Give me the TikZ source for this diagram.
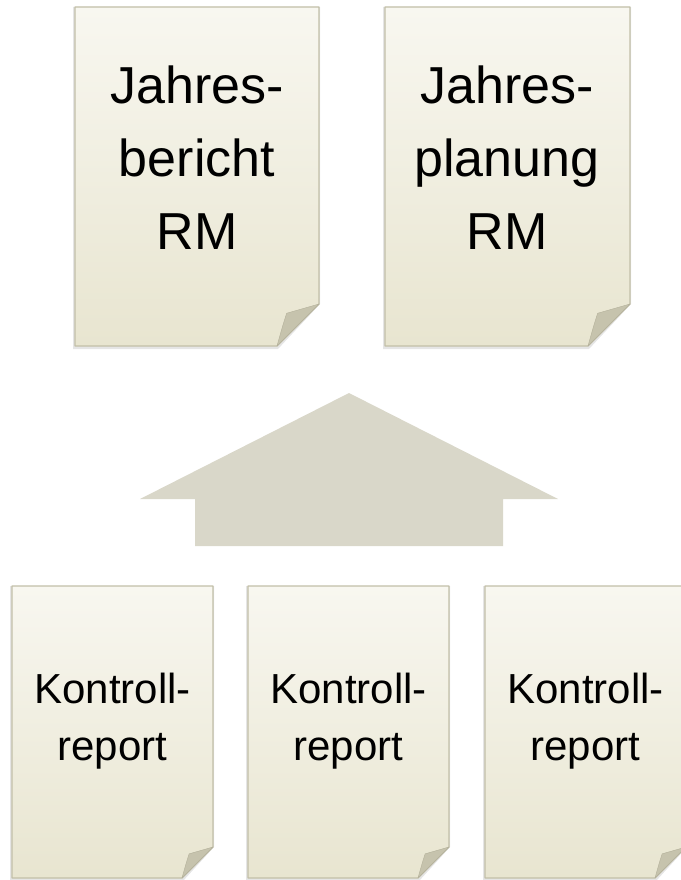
\documentclass[tikz,border=0pt]{standalone}
\usepackage{fontspec}
\setmainfont{Liberation Sans}
\usetikzlibrary{backgrounds,calc}
\definecolor{pagetop}{HTML}{F8F7F0}
\definecolor{pagebot}{HTML}{E8E5D0}
\definecolor{pageedge}{HTML}{C2BFA8}
\definecolor{foldgray}{HTML}{C6C3AD}
\definecolor{foldedge}{HTML}{B3B09A}
\definecolor{arrowgray}{HTML}{D9D7C9}
\tikzset{
  pagefill/.style={top color=pagetop,bottom color=pagebot,
                   draw=pageedge,line width=1.2pt,line join=round},
  pageshadow/.style={fill=black,opacity=0.10},
  pagefold/.style={fill=foldgray,draw=foldedge,line width=0.4pt,line join=round},
  bigtext/.style={align=center,inner sep=0pt,
                  font=\fontsize{52}{73}\selectfont},
  smalltext/.style={align=center,inner sep=0pt,
                    font=\fontsize{42}{57}\selectfont},
  blockarrow/.style={fill=arrowgray}
}

\begin{document}
\begin{tikzpicture}[x=1pt,y=-1pt]
  \useasboundingbox (0,0) rectangle (680,880);

  % paper sheets: left/top/right/bottom/fold
  \foreach \xa/\ya/\xb/\yb/\f in {75/7/319/346/42, 385/7/630/346/42,
                                  12/586/213/878/31, 248/586/449/878/31,
                                  485/586/686/878/31}{
    \fill[pageshadow] (\xa-2,\ya) -- (\xb+1,\ya) -- (\xb+1,\yb-\f) --
      (\xb-\f+1,\yb+3) -- (\xa-2,\yb+3) -- cycle;
    \path[pagefill] (\xa,\ya) -- (\xb,\ya) -- (\xb,\yb-\f) --
      (\xb-\f,\yb) -- (\xa,\yb) -- cycle;
    \path[pagefold] (\xb,\yb-\f) -- (\xb-0.77*\f,\yb-0.78*\f)
      .. controls (\xb-0.86*\f,\yb-0.5*\f) .. (\xb-\f,\yb) -- cycle;
  }

  \node[bigtext] (bericht) at (197,158) {Jahres-\\bericht\\RM};
  \node[bigtext] (planung) at (507,158) {Jahres-\\planung\\RM};

  \fill[blockarrow] (349,393) -- (558,499) -- (503,499) -- (503,546) --
    (195,546) -- (195,499) -- (140,499) -- cycle;

  \node[smalltext] (kontrA) at (112.5,721) {Kontroll-\\report};
  \node[smalltext] (kontrB) at (348.5,721) {Kontroll-\\report};
  \node[smalltext] (kontrC) at (585.5,721) {Kontroll-\\report};
\end{tikzpicture}
\end{document}
